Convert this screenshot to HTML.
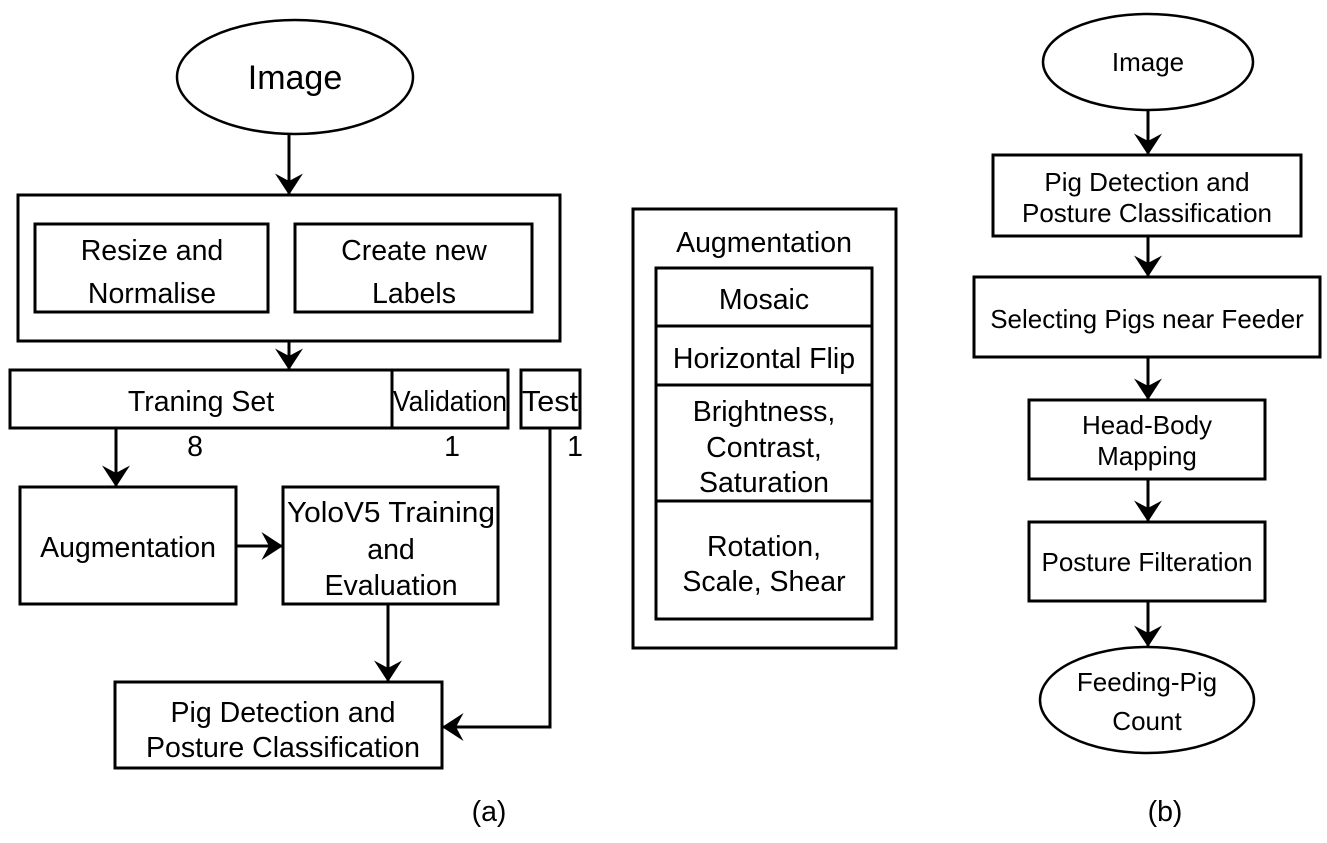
<!DOCTYPE html>
<html><head><meta charset="utf-8"><style>
html,body{margin:0;padding:0;background:#fff;}
svg text{font-family:"Liberation Sans",Arial,sans-serif;fill:#000;}
</style></head><body>
<svg width="1327" height="838" viewBox="0 0 1327 838" xmlns="http://www.w3.org/2000/svg">
<defs>
<marker id="b" viewBox="0 0 20 26" markerWidth="22" markerHeight="28" refX="20" refY="13" orient="auto" markerUnits="userSpaceOnUse">
<path d="M0,0 L20,13 L0,26 L7,13 Z" fill="#000"/>
</marker>
</defs>
<g fill="none" stroke="#000" stroke-width="3">
<ellipse cx="295" cy="77" rx="118" ry="57" stroke-width="2.5"/>
<line x1="289" y1="134" x2="289" y2="195" marker-end="url(#b)"/>
<rect x="18" y="195" width="542" height="146"/>
<rect x="35" y="224" width="233" height="88"/>
<rect x="295" y="224" width="237" height="88"/>
<line x1="289" y1="341" x2="289" y2="370" marker-end="url(#b)"/>
<rect x="10" y="370" width="382" height="58"/>
<rect x="392" y="370" width="116" height="58"/>
<rect x="521" y="370" width="59" height="58"/>
<line x1="116" y1="428" x2="116" y2="487" marker-end="url(#b)"/>
<rect x="20" y="487" width="216" height="117"/>
<rect x="283" y="487" width="215" height="117"/>
<line x1="236" y1="546" x2="283" y2="546" marker-end="url(#b)"/>
<line x1="388" y1="604" x2="388" y2="682" marker-end="url(#b)"/>
<rect x="115" y="682" width="327" height="86"/>
<polyline points="550,428 550,727 442,727" marker-end="url(#b)"/>
<rect x="633" y="209" width="263" height="439"/>
<rect x="656" y="268" width="216" height="351"/>
<line x1="656" y1="326" x2="872" y2="326"/>
<line x1="656" y1="385" x2="872" y2="385"/>
<line x1="656" y1="501" x2="872" y2="501"/>
<ellipse cx="1148" cy="62" rx="105" ry="48" stroke-width="2.5"/>
<line x1="1148" y1="110" x2="1148" y2="155" marker-end="url(#b)"/>
<rect x="993" y="155" width="308" height="81"/>
<line x1="1148" y1="236" x2="1148" y2="277" marker-end="url(#b)"/>
<rect x="974" y="277" width="346" height="80"/>
<line x1="1148" y1="357" x2="1148" y2="400" marker-end="url(#b)"/>
<rect x="1029" y="400" width="236" height="79"/>
<line x1="1148" y1="479" x2="1148" y2="522" marker-end="url(#b)"/>
<rect x="1029" y="522" width="236" height="79"/>
<line x1="1148" y1="601" x2="1148" y2="647" marker-end="url(#b)"/>
<ellipse cx="1147" cy="700" rx="107" ry="53" stroke-width="2.5"/>
</g>
<g font-size="28.5" text-anchor="middle">
<text x="295" y="89" font-size="34">Image</text>
<text x="152" y="260">Resize and</text>
<text x="152" y="303">Normalise</text>
<text x="414" y="260">Create new</text>
<text x="414" y="303">Labels</text>
<text x="201" y="411">Traning Set</text>
<text x="450" y="411" textLength="114" lengthAdjust="spacingAndGlyphs">Validation</text>
<text x="550" y="411" textLength="56" lengthAdjust="spacingAndGlyphs">Test</text>
<text x="195" y="456">8</text>
<text x="452" y="456">1</text>
<text x="575" y="456">1</text>
<text x="128" y="557">Augmentation</text>
<text x="391" y="522" textLength="208" lengthAdjust="spacingAndGlyphs">YoloV5 Training</text>
<text x="391" y="559">and</text>
<text x="391" y="595">Evaluation</text>
<text x="283" y="722">Pig Detection and</text>
<text x="283" y="757">Posture Classification</text>
<text x="764" y="252">Augmentation</text>
<text x="764" y="309">Mosaic</text>
<text x="764" y="368">Horizontal Flip</text>
<text x="764" y="421">Brightness,</text>
<text x="764" y="457">Contrast,</text>
<text x="764" y="492">Saturation</text>
<text x="764" y="556">Rotation,</text>
<text x="764" y="591">Scale, Shear</text>
<text x="489" y="821">(a)</text>
<text x="1165" y="821">(b)</text>
</g>
<g font-size="26" text-anchor="middle">
<text x="1148" y="71">Image</text>
<text x="1147" y="191">Pig Detection and</text>
<text x="1147" y="222">Posture Classification</text>
<text x="1147" y="328">Selecting Pigs near Feeder</text>
<text x="1147" y="434">Head-Body</text>
<text x="1147" y="465">Mapping</text>
<text x="1147" y="571">Posture Filteration</text>
<text x="1147" y="691">Feeding-Pig</text>
<text x="1147" y="730">Count</text>
</g>
</svg>
</body></html>
